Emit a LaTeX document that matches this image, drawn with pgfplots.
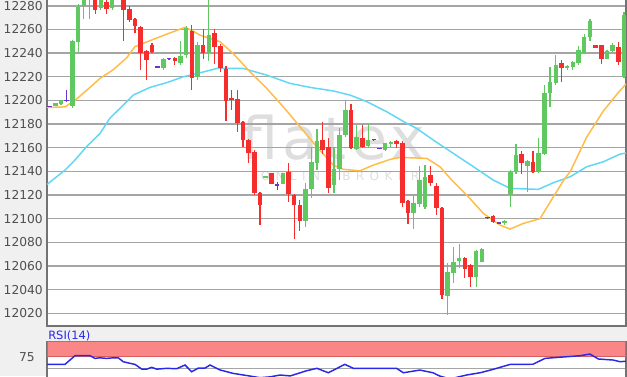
\documentclass[border=0pt]{standalone}
\usepackage{pgfplots}
\usepackage{pgfplotstable}
\pgfplotsset{compat=1.18}
\usepackage{fontspec}
\setmainfont{DejaVu Sans}
\newfontfamily\wmbig[LetterSpace=8]{DejaVu Sans}
\newfontfamily\wmsmall[LetterSpace=45]{DejaVu Sans}
\definecolor{cGreen}{RGB}{96,200,96}
\definecolor{cRed}{RGB}{245,45,45}
\definecolor{cPurple}{RGB}{110,50,210}
\definecolor{cOrange}{RGB}{255,188,70}
\definecolor{cCyan}{RGB}{95,215,245}
\definecolor{cGrid}{RGB}{165,165,165}
\definecolor{cFrame}{RGB}{115,115,115}
\definecolor{cBg}{RGB}{240,240,240}
\definecolor{cTick}{RGB}{80,80,80}
\definecolor{cRsi}{RGB}{40,40,235}
\definecolor{cBand}{RGB}{250,135,135}
\definecolor{cBandEdge}{RGB}{215,95,95}
\definecolor{cWm}{RGB}{222,222,222}

\pgfplotstableread{
i o h l c
1 12195 12198 12195 12198
2 12197 12200 12196 12200
4 12195 12251 12194 12250
5 12249 12282 12241 12279
6 12280 12296 12269 12292
7 12288 12298 12269 12296
9 12278 12292 12276 12290
11 12278 12292 12276 12290
12 12290 12298 12287 12296
20 12227 12236 12226 12235
23 12232 12250 12230 12237.5
24 12238 12263 12236 12261
26 12220 12249 12217 12247
28 12240 12295 12233 12255
38 12135 12136 12135 12136
41 12129.3 12139 12129 12138.8
45 12098.3 12130 12093 12124.8
46 12124.8 12161 12118 12148
47 12147 12176 12141 12166
50 12128.4 12161 12122 12142.5
51 12142.5 12177 12133 12170.7
52 12170.7 12200 12169 12191.8
54 12159.4 12179 12158 12169.2
56 12161.4 12180 12161 12166.5
59 12158 12164 12157 12163.7
60 12163.1 12166 12161 12165
64 12105 12120 12091 12113
65 12112 12145 12110 12133
66 12110 12145 12108 12135
70 12035 12063 12018.5 12055
71 12054 12076 12046 12063.6
72 12064.4 12078.6 12058 12066.5
75 12051 12074 12042.5 12073
76 12063.6 12075 12063 12074.1
80 12097 12099 12095 12097.8
81 12121 12141 12110 12139.7
82 12140 12163 12138 12154
84 12144.7 12150 12123 12149
86 12139.7 12168 12139 12155.2
87 12154.6 12213 12154 12206.5
88 12205.9 12228.4 12194 12215.8
89 12214.9 12238.3 12213 12229.8
91 12227 12230 12226 12229
92 12228.4 12233 12226 12232.6
93 12231.3 12246 12230 12242.5
94 12240.3 12256 12239 12253.8
95 12253.3 12269.3 12250 12267.3
98 12235.5 12243 12235 12242
99 12242 12249 12241 12246.8
101 12220 12275 12219 12272.1
}\greentab

\pgfplotstableread{
i o h l c
8 12292 12294 12273 12276
10 12283 12286 12273 12277
13 12292 12294 12250 12276
14 12277 12280 12266 12268
15 12269 12270 12257 12263
16 12262 12263 12226 12240
17 12242 12243 12217 12234
18 12247 12249 12240 12241
22 12236.4 12237 12230 12233.5
25 12259 12264 12209 12219
27 12247 12260 12235 12240
29 12257 12260 12231 12245
30 12246 12248 12224 12227
31 12227 12229 12183 12200
32 12202 12209 12192 12200
33 12201 12209 12173.5 12181
34 12182 12183 12161 12166.5
35 12166.5 12167 12147 12156
36 12156.6 12158 12120 12122
37 12122 12123 12095 12111.5
39 12138.3 12139 12129 12129.3
42 12139.7 12147.3 12114.3 12121.4
43 12120 12121 12082.5 12111.5
44 12111.5 12116 12090 12098.3
48 12166.5 12182 12155 12158
49 12161 12168 12122 12126
53 12191.8 12197 12159 12159.4
55 12168.7 12179 12160 12160.8
61 12165.9 12167 12160 12163.1
62 12164 12166 12110 12113
63 12115 12116 12096 12104.5
67 12137 12145 12128 12130
68 12128 12130 12103 12109
69 12109.5 12110 12032 12035.4
73 12067.3 12068 12050 12058
74 12060.8 12062 12042.5 12050.4
78 12102.2 12103 12096 12097.4
83 12154.6 12157 12138 12147.3
85 12148 12157.4 12139 12139.7
90 12231.3 12234 12215.8 12227.9
96 12246.8 12247 12244.5 12244.5
97 12246.8 12247 12231.3 12234.7
100 12245.3 12249.6 12229.8 12232.6
}\redtab

\pgfplotstableread{
i o h l c
0 12195 12195.5 12194.5 12195
3 12200 12209 12199 12200
19 12228.4 12229 12228 12228.4
21 12235.5 12236 12235 12235.5
40 12128.4 12131 12124 12128.4
57 12167 12167.5 12166.5 12167
58 12159.4 12160 12159 12159.4
77 12101.1 12101.6 12100.6 12101.1
79 12096.6 12097.1 12096.1 12096.6
}\dojitab

\pgfplotsset{
  candle/.style={draw=none, mark=none, forget plot,
    error bars/.cd, y dir=both, y explicit, error mark=none,
    error bar style={draw=#1}},
}

\begin{document}
\begin{tikzpicture}
\useasboundingbox (0,0) rectangle (470.25pt,-282pt);
\fill[cBg] (0,0) rectangle (470.25pt,-282pt);
\fill[white] (35.25pt,0) rectangle (469.5pt,-244.3pt);
\node[text=cWm, font=\wmbig\fontsize{44}{48}\selectfont, inner sep=0pt] at (250pt,-103pt) {flatex};
\node[text=cWm, font=\wmsmall\fontsize{9}{10}\selectfont, inner sep=0pt] at (255pt,-132pt) {ONLINE BROKER};
\begin{axis}[
  at={(35.25pt,-244.3pt)}, anchor=south west,
  width=434.25pt, height=245.3pt, scale only axis,
  xmin=-0.47, xmax=101.35, ymin=12009.5, ymax=12286,
  xtick=\empty,
  ytick={12020,12040,...,12280},
  scaled y ticks=false,
  ymajorgrids,
  major grid style={cGrid, line width=1.1pt},
  major tick length=0pt,
  axis line style={cFrame, line width=1.2pt},
  /pgf/number format/assume math mode=true,
  yticklabel style={/pgf/number format/fixed, /pgf/number format/precision=0,
    /pgf/number format/1000 sep={}, font=\fontsize{9.2}{10}\selectfont,
    text=cTick, anchor=east, inner sep=0pt, xshift=-3pt},
]
% moving averages
\addplot[cCyan, line width=1.1pt] coordinates {(-0.47,12129) (2.69,12141) (4.15,12148) (6.51,12161) (8.85,12172) (10.6,12185) (12.94,12196) (14.7,12204.5) (17.64,12211) (20.58,12215) (23.5,12220) (26.43,12223.3) (29.37,12227) (34.05,12227) (38.16,12221.4) (42.26,12214.4) (45.78,12211) (49.88,12208) (52.81,12204.5) (55.75,12199) (59.27,12190.4) (62.79,12180.6) (64.54,12176.3) (67.46,12166.5) (70.98,12155.2) (74.5,12144) (78.02,12132.6) (80.96,12125.6) (85.93,12124.8) (88.57,12130.4) (91.5,12135.4) (94.44,12143.9) (97.36,12148.1) (100.3,12154.6) (101.35,12155.5)};
\addplot[cOrange, line width=1.1pt] coordinates {(-0.47,12194) (2.69,12194.5) (4.45,12200) (7.09,12211) (8.85,12218.6) (11.19,12226) (13.54,12236) (15.0,12245.5) (17.64,12250.5) (20.58,12256) (23.8,12261.8) (24.97,12259.2) (26.43,12255.2) (29.95,12249.6) (32.24,12239.7) (35.23,12224.2) (38.16,12210.2) (41.08,12194.6) (44.02,12177.7) (46.96,12160.8) (49.88,12145.3) (51.64,12141.7) (54.57,12140.5) (56.91,12145.3) (59.85,12150.1) (61.61,12151.8) (66.3,12151) (68.64,12143.9) (70.7,12132.6) (73.34,12120) (76.26,12104.5) (79.2,12094.6) (80.96,12091.2) (83.29,12096) (86.23,12100) (88.57,12118.5) (90.6,12134) (91.56,12140) (94.44,12169) (97.36,12191) (99.72,12205) (101.35,12214)};
% green candles
\addplot[candle={cGreen, line width=0.9pt}]
  table[x=i, y expr={(\thisrow{h}+\thisrow{l})/2}, y error expr={(\thisrow{h}-\thisrow{l})/2}] {\greentab};
\addplot[candle={cGreen, line width=3.4pt}]
  table[x=i, y expr={(\thisrow{o}+\thisrow{c})/2}, y error expr={max(abs(\thisrow{c}-\thisrow{o})/2,0.55)}] {\greentab};
% red candles
\addplot[candle={cRed, line width=0.9pt}]
  table[x=i, y expr={(\thisrow{h}+\thisrow{l})/2}, y error expr={(\thisrow{h}-\thisrow{l})/2}] {\redtab};
\addplot[candle={cRed, line width=3.4pt}]
  table[x=i, y expr={(\thisrow{o}+\thisrow{c})/2}, y error expr={max(abs(\thisrow{c}-\thisrow{o})/2,0.55)}] {\redtab};
% doji
\addplot[candle={cPurple, line width=0.9pt}]
  table[x=i, y expr={(\thisrow{h}+\thisrow{l})/2}, y error expr={(\thisrow{h}-\thisrow{l})/2}] {\dojitab};
\addplot[candle={cPurple, line width=3.4pt}]
  table[x=i, y=c, y error expr={0.55}] {\dojitab};
\end{axis}

\node[anchor=west, inner sep=0pt, text=cRsi, font=\fontsize{8.6}{10}\selectfont] at (36pt,-252pt) {RSI(14)};

\begin{axis}[
  at={(35.25pt,-256.3pt)}, anchor=north west,
  width=434.25pt, height=28.7pt, scale only axis,
  xmin=-0.47, xmax=101.35, ymin=36.2, ymax=100,
  xtick=\empty,
  ytick={55.7,75}, yticklabels={,75},
  ymajorgrids,
  major grid style={cGrid, line width=1.1pt},
  major tick length=0pt,
  axis background/.style={fill=white},
  axis line style={cFrame, line width=1.2pt},
  yticklabel style={font=\fontsize{9.2}{10}\selectfont, text=cTick, anchor=east, inner sep=0pt, xshift=-9pt},
]
\addplot[fill=cBand, draw=cBandEdge, line width=0.8pt] coordinates {(-0.47,75) (101.35,75) (101.35,100) (-0.47,100)} -- cycle;
\addplot[cRsi, line width=1.1pt] coordinates {(-0.47,62.3) (2.69,62.3) (4.45,76.7) (7.09,76.7) (7.97,72.3) (8.85,73.2) (10.02,72.3) (11.19,73.2) (12.06,73.2) (12.94,66.7) (14.12,64) (15.0,62.3) (16.18,54.5) (17.06,54.3) (17.94,57.3) (18.82,54.3) (20.58,55.7) (22.34,55) (23.8,61.2) (24.97,50) (26.14,56) (27.3,56) (28.19,61.2) (29.95,53) (32.24,47.3) (35.23,42.8) (37,40) (38.8,41.5) (40.5,44.5) (42.3,43) (45.2,51.7) (47.0,55.7) (49.0,48.3) (51.9,62.3) (53.4,55.7) (56.9,55.7) (61.0,55.7) (62.2,48.3) (65.1,52.8) (67.4,48.3) (68.6,42.8) (70.4,38) (73.3,44.5) (75.7,48.3) (78.0,54) (81.0,62.3) (82.7,62.3) (85.0,62.5) (87.1,72.3) (90.9,75) (93.3,76.7) (95.0,79.5) (96.5,71.2) (99.1,69.5) (100.3,66.7) (101.35,67.5)};
\end{axis}
\end{tikzpicture}
\end{document}
